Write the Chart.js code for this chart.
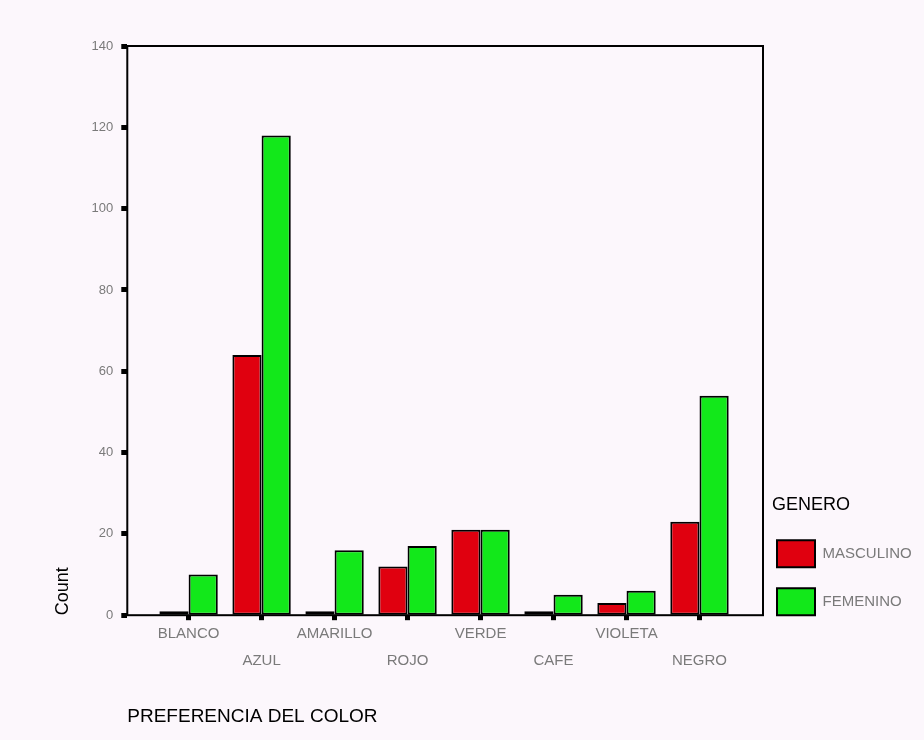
<!DOCTYPE html>
<html>
<head>
<meta charset="utf-8">
<title>Preferencia del color</title>
<script src="https://cdn.jsdelivr.net/npm/chart.js@4/dist/chart.umd.min.js"></script>
<style>
    html, body { margin: 0; padding: 0; background: #fcf7fc; }
    #wrap { width: 924px; height: 740px; position: relative; }
</style>
</head>
<body>
<div id="wrap"><canvas id="colorChart"></canvas></div>
<script>
// categorias del eje x
const colores = ['BLANCO', 'AZUL', 'AMARILLO', 'ROJO', 'VERDE', 'CAFE', 'VIOLETA', 'NEGRO'];
// conteos por genero
const masculino = [1, 64, 1, 12, 21, 1, 3, 23];
const femenino = [10, 118, 16, 17, 21, 5, 6, 54];
// marcas del eje y
const yTicks = [0, 20, 40, 60, 80, 100, 120, 140];

const labelGray = '#7a7a7a';
const legendTitle = 'GENERO';

// marco negro alrededor del area del grafico
const framePlugin = {
    id: 'frame',
    afterDatasetsDraw: function(chart) {
        const a = chart.chartArea;
        const ctx = chart.ctx;
        ctx.save();
        ctx.strokeStyle = '#000';
        ctx.lineWidth = 2;
        ctx.strokeRect(a.left, a.top, a.right - a.left, a.bottom - a.top);
        ctx.restore();
    }
};

// acerca la leyenda al marco y la baja hasta el eje x
const legendShift = {
    id: 'legendShift',
    afterLayout: function(chart) {
        const lg = chart.legend;
        if (!lg) return;
        lg.left -= 7;
        lg.top += 21;
        lg.bottom += 21;
    },
    // titulo de la leyenda, alineado con el primer cuadro
    afterDraw: function(chart) {
        const lg = chart.legend;
        if (!lg || !lg.legendHitBoxes.length) return;
        const box = lg.legendHitBoxes[0];
        const ctx = chart.ctx;
        ctx.save();
        ctx.fillStyle = '#000';
        ctx.font = '18px "Liberation Sans"';
        ctx.textAlign = 'left';
        ctx.textBaseline = 'alphabetic';
        ctx.fillText(legendTitle, box.left - 5, box.top - 30);
        ctx.restore();
    }
};

function toPoints(values) {
    return values.map(function(v, i) { return { x: i, y: v }; });
}

document.addEventListener("DOMContentLoaded", function() {
    const ctx = document.getElementById('colorChart').getContext('2d');

    new Chart(ctx, {
        type: 'bar',
        data: {
            datasets: [{
                label: 'MASCULINO',
                data: toPoints(masculino),
                backgroundColor: '#e0000f',
                borderColor: '#000',
                borderWidth: 2,
                borderSkipped: false,
                categoryPercentage: 0.8,
                barPercentage: 1.0
            }, {
                label: 'FEMENINO',
                data: toPoints(femenino),
                backgroundColor: '#12e81a',
                borderColor: '#000',
                borderWidth: 2,
                borderSkipped: false,
                categoryPercentage: 0.8,
                barPercentage: 1.0
            }]
        },
        options: {
            responsive: true,
            maintainAspectRatio: false,
            animation: false,
            layout: {
                padding: { top: 46, left: 42, right: 9, bottom: 12 }
            },
            plugins: {
                tooltip: { enabled: false },
                legend: {
                    position: 'right',
                    align: 'end',
                    fullSize: false,
                    maxWidth: 152,
                    labels: {
                        boxWidth: 38,
                        boxHeight: 27,
                        padding: 21,
                        color: labelGray,
                        font: { family: 'Liberation Sans', size: 15 }
                    }
                }
            },
            scales: {
                x: {
                    type: 'linear',
                    offset: false,
                    min: -0.84,
                    max: 7.87,
                    afterBuildTicks: function(axis) {
                        axis.ticks = colores.map(function(c, i) { return { value: i }; });
                    },
                    ticks: {
                        autoSkip: false,
                        maxRotation: 0,
                        padding: 0,
                        color: labelGray,
                        font: { family: 'Liberation Sans', size: 15, lineHeight: 27 / 15 },
                        callback: function(value) {
                            const name = colores[value];
                            return value % 2 ? ['', name] : [name];
                        }
                    },
                    grid: {
                        offset: false,
                        drawOnChartArea: false,
                        drawTicks: true,
                        tickLength: 5,
                        tickWidth: 5,
                        color: '#000'
                    },
                    border: { display: false },
                    title: {
                        display: true,
                        text: 'PREFERENCIA DEL COLOR',
                        align: 'start',
                        color: '#000',
                        font: { family: 'Liberation Sans', size: 19 },
                        padding: { top: 31, bottom: 0 }
                    }
                },
                y: {
                    min: 0,
                    max: 140,
                    afterBuildTicks: function(axis) {
                        axis.ticks = yTicks.map(function(v) { return { value: v }; });
                    },
                    ticks: {
                        padding: 8,
                        color: labelGray,
                        font: { family: 'Liberation Sans', size: 13 }
                    },
                    grid: {
                        drawOnChartArea: false,
                        drawTicks: true,
                        tickLength: 6,
                        tickWidth: 5,
                        color: '#000'
                    },
                    border: { display: false },
                    title: {
                        display: true,
                        text: 'Count',
                        align: 'start',
                        color: '#000',
                        font: { family: 'Liberation Sans', size: 18 },
                        padding: { top: 10, bottom: 10 }
                    }
                }
            }
        },
        plugins: [framePlugin, legendShift]
    });
});
</script>
</body>
</html>
